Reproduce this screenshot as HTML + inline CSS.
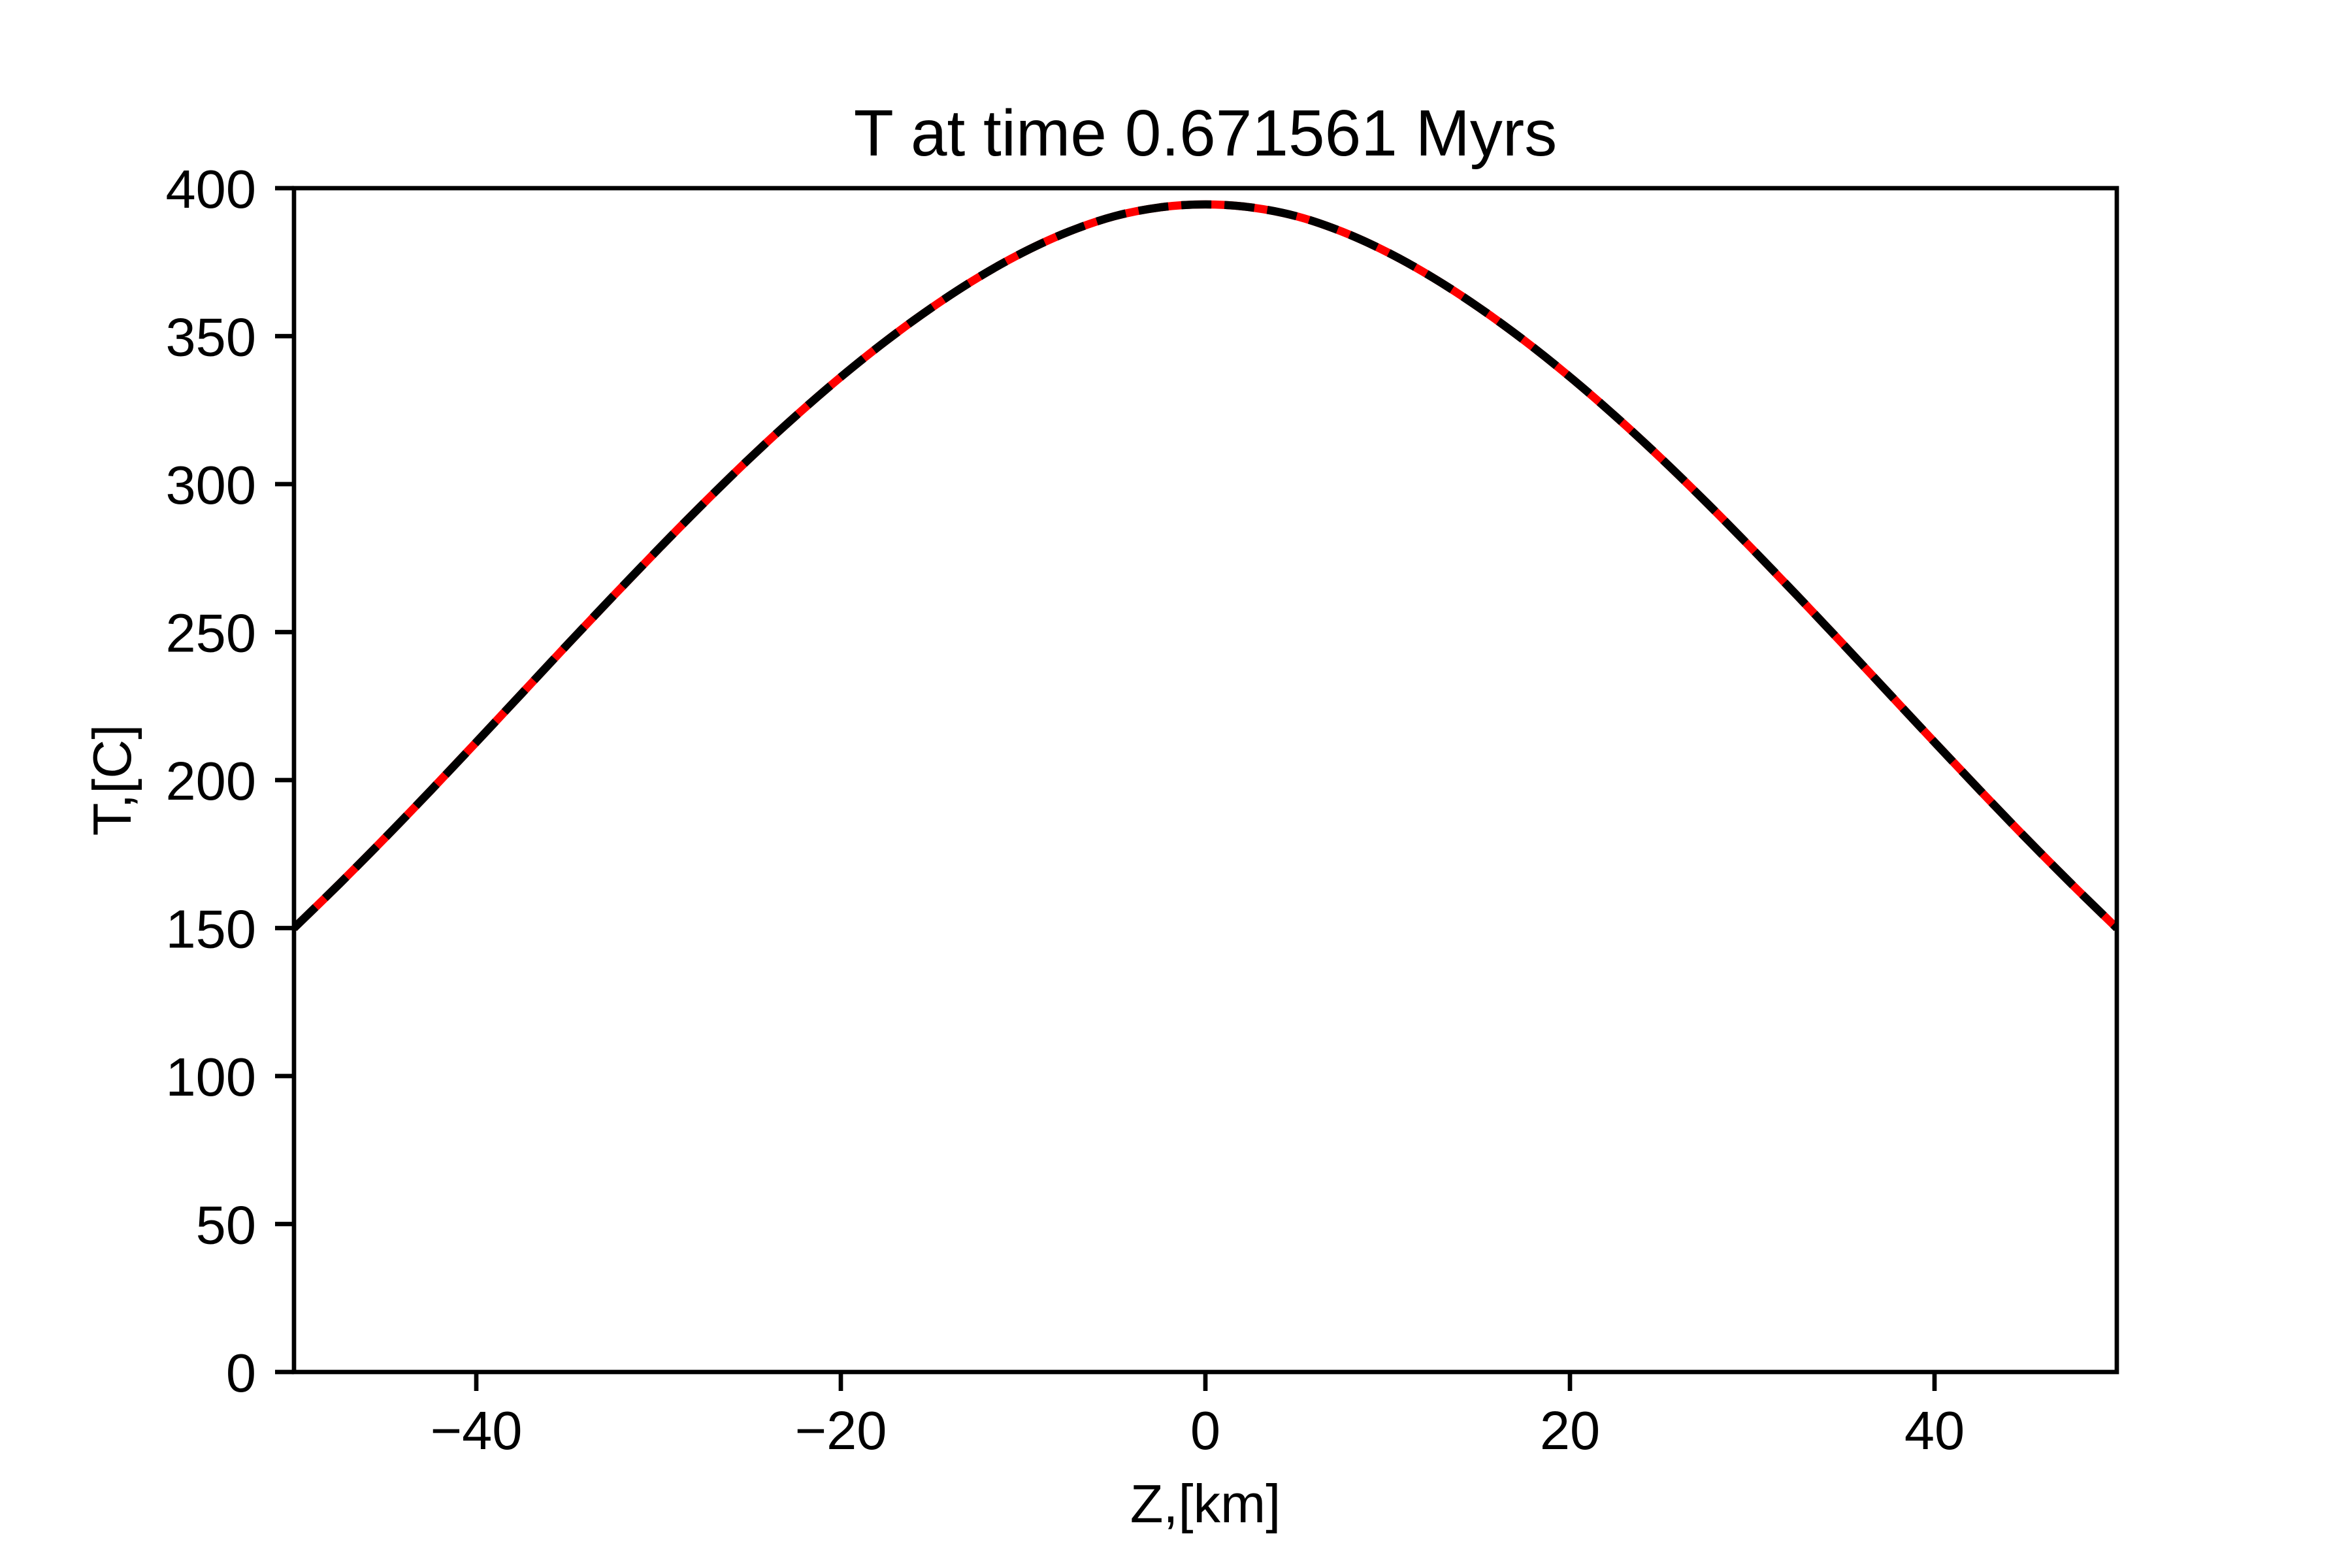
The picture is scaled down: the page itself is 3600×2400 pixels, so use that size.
<!DOCTYPE html>
<html><head><meta charset="utf-8">
<style>
html,body{margin:0;padding:0;background:#fff;}
svg{display:block;}
text{font-family:"Liberation Sans","DejaVu Sans",sans-serif;fill:#000;}
</style></head>
<body>
<svg id="chart" width="3600" height="2400" viewBox="0 0 3600 2400" xmlns="http://www.w3.org/2000/svg">
<rect x="0" y="0" width="3600" height="2400" fill="#fff"/>
<text x="1845" y="238" font-size="100" text-anchor="middle">T at time 0.671561 Myrs</text>
<g id="plot"></g>
<g id="axes"></g>
<text x="1845" y="2330" font-size="83" text-anchor="middle">Z,[km]</text>
<text x="0" y="0" font-size="83" text-anchor="middle" transform="translate(200,1194) rotate(-90)">T,[C]</text>
</svg>
<script>
const zValues = [-50,-47.5,-45,-42.5,-40,-37.5,-35,-32.5,-30,-27.5,-25,-22.5,-20,-17.5,-15,-12.5,-10,-7.5,-5,-2.5,0,2.5,5,7.5,10,12.5,15,17.5,20,22.5,25,27.5,30,32.5,35,37.5,40,42.5,45,47.5,50];
const numericT = [150,165,180.5,196.5,212.8,229.3,245.8,262.1,278.1,293.7,308.7,322.9,336.2,348.5,359.7,369.7,378.3,385.3,390.5,393.5,394.5,393.5,390.5,385.3,378.3,369.7,359.7,348.5,336.2,322.9,308.7,293.7,278.1,262.1,245.8,229.3,212.8,196.5,180.5,165,150];
const analyticT = [150,165,180.5,196.5,212.8,229.3,245.8,262.1,278.1,293.7,308.7,322.9,336.2,348.5,359.7,369.7,378.3,385.3,390.5,393.5,394.5,393.5,390.5,385.3,378.3,369.7,359.7,348.5,336.2,322.9,308.7,293.7,278.1,262.1,245.8,229.3,212.8,196.5,180.5,165,150];
const xTicks = [-40,-20,0,20,40];
const xTickLabels = ["\u221240","\u221220","0","20","40"];
const yTicks = [0,50,100,150,200,250,300,350,400];
const yTickLabels = ["0","50","100","150","200","250","300","350","400"];

const L=450,R=3240,T=288,B=2100;
const xMin=-50,xMax=50,yMin=0,yMax=400;
const NS="http://www.w3.org/2000/svg";
function sx(v){return L+(v-xMin)/(xMax-xMin)*(R-L);}
function sy(v){return B-(v-yMin)/(yMax-yMin)*(B-T);}
function mk(tag,attrs){const e=document.createElementNS(NS,tag);for(const k in attrs)e.setAttribute(k,attrs[k]);return e;}
function pathFor(xs,ys){
  const p=xs.map((x,i)=>[sx(x),sy(ys[i])]);
  let d="M"+p[0][0].toFixed(1)+","+p[0][1].toFixed(1);
  for(let i=0;i<p.length-1;i++){
    const p0=p[Math.max(0,i-1)],p1=p[i],p2=p[i+1],p3=p[Math.min(p.length-1,i+2)];
    const c1=[p1[0]+(p2[0]-p0[0])/6,p1[1]+(p2[1]-p0[1])/6];
    const c2=[p2[0]-(p3[0]-p1[0])/6,p2[1]-(p3[1]-p1[1])/6];
    d+=" C"+c1.map(v=>v.toFixed(1)).join(",")+" "+c2.map(v=>v.toFixed(1)).join(",")+" "+p2[0].toFixed(1)+","+p2[1].toFixed(1);
  }
  return d;
}
const plot=document.getElementById('plot');
const cp=mk('clipPath',{id:'clip'});cp.appendChild(mk('rect',{x:L,y:T,width:R-L,height:B-T}));
const defs=mk('defs',{});defs.appendChild(cp);plot.appendChild(defs);
const red=mk('path',{d:pathFor(zValues,numericT),fill:'none',stroke:'#ff0000','stroke-width':12.5,'clip-path':'url(#clip)'});


plot.appendChild(red);
const blk=mk('path',{d:pathFor(zValues,analyticT),fill:'none',stroke:'#000','stroke-width':12.5,'stroke-dasharray':'46 20','clip-path':'url(#clip)'});


plot.appendChild(blk);

const axes=document.getElementById('axes');
const frame=mk('rect',{x:L,y:T,width:R-L,height:B-T,fill:'none',stroke:'#000','stroke-width':6.7});


axes.appendChild(frame);
xTicks.forEach((v,i)=>{
  const t=mk('line',{x1:sx(v),x2:sx(v),y1:B,y2:B+29,stroke:'#000','stroke-width':6.7});
  
  
  axes.appendChild(t);
  const lb=mk('text',{x:sx(v),y:B+29+29+60,'font-size':83,'text-anchor':'middle'});
  
  
  lb.textContent=xTickLabels[i];axes.appendChild(lb);
});
yTicks.forEach((v,i)=>{
  const t=mk('line',{x1:L-29,x2:L,y1:sy(v),y2:sy(v),stroke:'#000','stroke-width':6.7});
  
  
  axes.appendChild(t);
  const lb=mk('text',{x:L-29-29,y:sy(v)+30,'font-size':83,'text-anchor':'end'});
  
  
  lb.textContent=yTickLabels[i];axes.appendChild(lb);
});
</script>
</body></html>
